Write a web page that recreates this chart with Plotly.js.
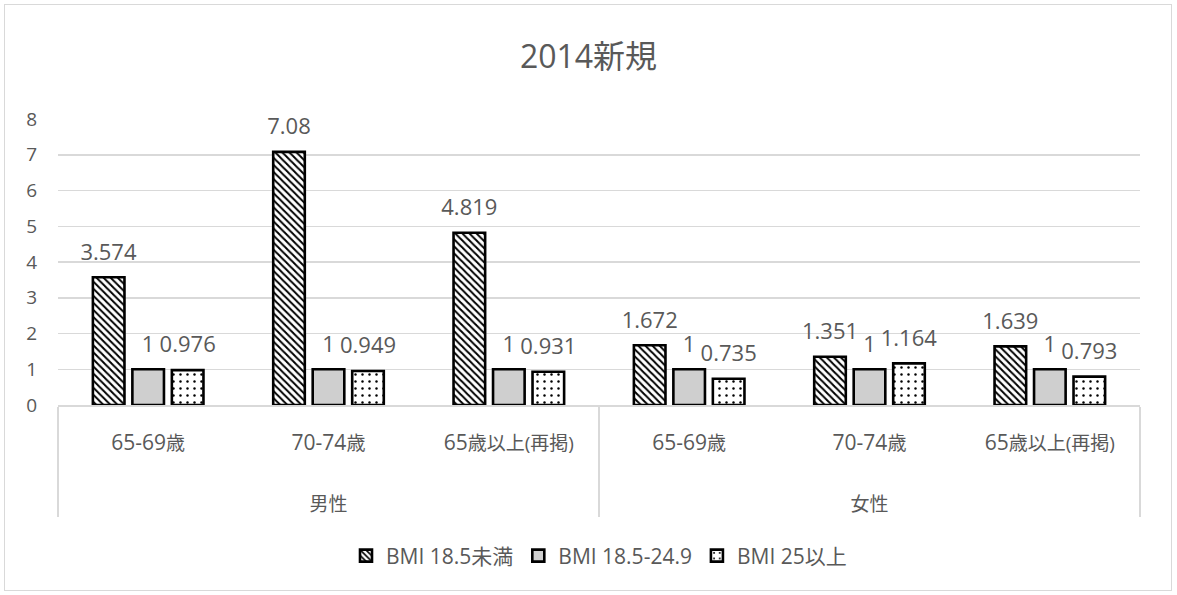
<!DOCTYPE html>
<html>
<head>
<meta charset="utf-8">
<script src="https://cdn.plot.ly/plotly-3.0.1.min.js"></script>
<style>
  html, body { margin: 0; padding: 0; background: #fff; }
  #wrap { position: absolute; left: 4px; top: 4px; width: 1166px; height: 585px; border: 1px solid #d9d9d9; }
  #chart { position: absolute; left: 0; top: 0; width: 1177px; height: 595px; }
</style>
</head>
<body>
<div id="wrap"></div>
<div id="chart"></div>
<script>
const groups = ["男性", "男性", "男性", "女性", "女性", "女性"];
const ageGroups = ["65-69歳", "70-74歳", "65歳以上(再掲)", "65-69歳", "70-74歳", "65歳以上(再掲)"];
const seriesNames = ["BMI 18.5未満", "BMI 18.5-24.9", "BMI 25以上"];
const bmiUnder = [3.574, 7.08, 4.819, 1.672, 1.351, 1.639];
const bmiNormal = [1, 1, 1, 1, 1, 1];
const bmiOver = [0.976, 0.949, 0.931, 0.735, 1.164, 0.793];
const yTicks = [0, 1, 2, 3, 4, 5, 6, 7, 8];

const FONT = "'Open Sans', 'Noto Sans CJK JP', sans-serif";
const textGray = "#595959";

// digits drawn a bit larger than the CJK glyphs (as in the original), plus blank spacer
// lines under each age label that push the group-label row down (layout only)
const ageLabels = ageGroups.map(s =>
  s.replace(/([0-9\-]+)/g, "<span style='font-size:21px'>$1</span>") +
  "<br><span> </span><br><span style='font-size:28px'> </span>");

function mk(name, vals, marker) {
  return {
    type: "bar",
    name: name,
    x: [groups, ageLabels],
    y: vals,
    text: vals.map(v => String(v)),
    // small blank second line lifts the label a little above the bar (layout only)
    texttemplate: "<span style='font-size:22px'>%{text}</span><br>\u00a0",
    textposition: "outside",
    constraintext: "none",
    cliponaxis: false,
    textfont: { family: FONT, size: 9, color: textGray },
    marker: Object.assign({ line: { color: "#000", width: 2.6 } }, marker),
    hoverinfo: "y"
  };
}

const data = [
  mk(seriesNames[0], bmiUnder, { color: "#ffffff", pattern: { shape: "\\", fgcolor: "#000", bgcolor: "#fff", size: 5, solidity: 0.4 } }),
  mk(seriesNames[1], bmiNormal, { color: "#cfcfcf" }),
  mk(seriesNames[2], bmiOver, { color: "#ffffff", pattern: { shape: ".", fgcolor: "#000", bgcolor: "#fff", size: 7, solidity: 0.1 } })
];

const layout = {
  width: 1177,
  height: 595,
  margin: { l: 58, r: 37, t: 119, b: 190 },
  paper_bgcolor: "rgba(0,0,0,0)",
  plot_bgcolor: "#fff",
  title: { text: "2014新規", font: { family: FONT, size: 32, color: textGray }, x: 0.5, xanchor: "center", y: 0.905, yanchor: "middle" },
  barmode: "group",
  bargap: 0.343,
  bargroupgap: 0.2,
  showlegend: true,
  legend: {
    orientation: "h", x: 0.5, xanchor: "center", y: -0.528, yanchor: "middle",
    font: { family: FONT, size: 21, color: textGray },
    itemwidth: 30, traceorder: "normal"
  },
  xaxis: {
    type: "multicategory",
    showline: true, linecolor: "#d9d9d9", linewidth: 1.5,
    showdividers: true, dividercolor: "#d9d9d9", dividerwidth: 1.5,
    ticks: "", ticklabelstandoff: 21,
    tickfont: { family: FONT, size: 19, color: textGray },
    showgrid: false
  },
  yaxis: {
    range: [0, 8],
    tickvals: yTicks,
    ticktext: yTicks.map(String),
    showgrid: true, gridcolor: "#d9d9d9", gridwidth: 1.5,
    zeroline: false,
    showline: false,
    ticks: "", ticklabelstandoff: 20,
    tickfont: { family: FONT, size: 19, color: textGray }
  }
};

Plotly.newPlot("chart", data, layout, { displayModeBar: false, staticPlot: true });
</script>
</body>
</html>
